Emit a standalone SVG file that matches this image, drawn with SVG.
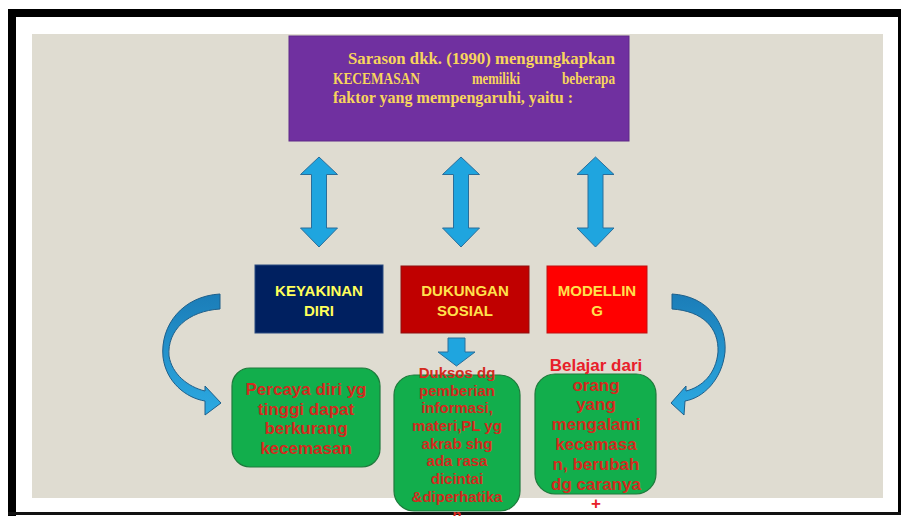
<svg xmlns="http://www.w3.org/2000/svg" width="901" height="516" viewBox="0 0 901 516">
<defs>
<style>
.title{font-family:"Liberation Serif","Times New Roman",serif;font-weight:bold;font-size:16.5px;fill:#F7D55C}
.lbl{font-family:"Liberation Sans",Arial,sans-serif;font-weight:bold;font-size:15px;text-anchor:middle}
.gt{font-family:"Liberation Sans",Arial,sans-serif;font-weight:bold;text-anchor:middle;fill:#D42A1E}
.arr{fill:#1FA5DF;stroke:#2A6E9A;stroke-width:1}
.carr{fill:url(#cg);stroke:#1E5F8A;stroke-width:1}
.gbox{fill:#12AE4C;stroke:#1F7A3C;stroke-width:1.2}
</style>
<linearGradient id="cg" x1="0" y1="0" x2="0" y2="1">
<stop offset="0" stop-color="#1B7DB8"/>
<stop offset="1" stop-color="#2CAAE2"/>
</linearGradient>
<path id="dbl" d="M0,157 L18.5,174.5 L7.5,174.5 L7.5,228 L18.5,228 L0,247 L-18.5,228 L-7.5,228 L-7.5,174.5 L-18.5,174.5 Z"/>
</defs>
<rect x="0" y="0" width="901" height="516" fill="#ffffff"/>
<g id="frame">
<rect x="8" y="9" width="893" height="8" fill="#000"/>
<rect x="8" y="9" width="8" height="507" fill="#000"/>
<rect x="898" y="9" width="3" height="505" fill="#000"/>
<rect x="8" y="512" width="893" height="3" fill="#111"/>
<rect x="32" y="34" width="851" height="464" fill="#DFDCD1"/>
</g>
<g id="connectors">
<use href="#dbl" x="319" class="arr"/>
<use href="#dbl" x="461" class="arr"/>
<use href="#dbl" x="595.5" class="arr"/>
<path class="arr" d="M448,338 L465,338 L465,352 L475,352 L456.5,366 L438,352 L448,352 Z"/>
<path class="carr" d="M220,294 C183,296 160,325 163,357 C166,382 186,398 205,401 L205,415 L221,403 L205,386 L205,391 C188,387 172,374 169,356 C167,330 188,311 220,309 Z"/>
<path class="carr" d="M672,294 C709,296 727,325 725,352 C722,380 703,398 685,401 L684,415 L671,403 L686,386 L686,391 C702,387 716,374 718,352 C719,328 703,311 672,309 Z"/>
</g>
<g id="title">
<rect x="289" y="36" width="340" height="105" fill="#7030A0" stroke="#5E2888" stroke-width="1"/>
<text class="title" x="348" y="64" textLength="267" lengthAdjust="spacingAndGlyphs">Sarason dkk. (1990) mengungkapkan</text>
<text class="title" y="84"><tspan x="333" textLength="87" lengthAdjust="spacingAndGlyphs">KECEMASAN</tspan><tspan x="472" textLength="48" lengthAdjust="spacingAndGlyphs">memiliki</tspan><tspan x="562" textLength="53" lengthAdjust="spacingAndGlyphs">beberapa</tspan></text>
<text class="title" x="333" y="103" textLength="240" lengthAdjust="spacingAndGlyphs">faktor yang mempengaruhi, yaitu :</text>
</g>
<g id="keyakinan">
<rect x="255" y="265" width="128" height="68" fill="#002060" stroke="#2A4A80" stroke-width="1"/>
<text class="lbl" fill="#FFFF5A" x="319" y="296">KEYAKINAN</text>
<text class="lbl" fill="#FFFF5A" x="319" y="316">DIRI</text>
</g>
<g id="dukungan">
<rect x="401" y="266" width="128" height="67" fill="#C00000" stroke="#8E1010" stroke-width="1"/>
<text class="lbl" fill="#FFE14D" x="465" y="296">DUKUNGAN</text>
<text class="lbl" fill="#FFE14D" x="465" y="316">SOSIAL</text>
</g>
<g id="modelling">
<rect x="547" y="266" width="100" height="67" fill="#FF0000" stroke="#C01010" stroke-width="1"/>
<text class="lbl" fill="#FFE14D" x="597" y="296">MODELLIN</text>
<text class="lbl" fill="#FFE14D" x="597" y="316">G</text>
</g>
<g id="percaya">
<rect class="gbox" x="232" y="368" width="148" height="99" rx="18"/>
<text class="gt" font-size="17" x="306"><tspan x="306" y="395">Percaya diri yg</tspan><tspan x="306" y="415">tinggi dapat</tspan><tspan x="306" y="434">berkurang</tspan><tspan x="306" y="454">kecemasan</tspan></text>
</g>
<g id="duksos">
<rect class="gbox" x="394" y="375" width="126" height="136" rx="20"/>
<text class="gt" font-size="15" x="457"><tspan x="457" y="378">Duksos dg</tspan><tspan x="457" y="396">pemberian</tspan><tspan x="457" y="413">informasi,</tspan><tspan x="457" y="431">materi,PL yg</tspan><tspan x="457" y="449">akrab shg</tspan><tspan x="457" y="466">ada rasa</tspan><tspan x="457" y="484">dicintai</tspan><tspan x="457" y="502">&amp;diperhatika</tspan><tspan x="457" y="520">n</tspan></text>
</g>
<g id="belajar">
<rect class="gbox" x="535" y="374" width="121" height="120" rx="20"/>
<text class="gt" font-size="17" x="596"><tspan x="596" y="371" fill="#E8202A">Belajar dari</tspan><tspan x="596" y="391">orang</tspan><tspan x="596" y="410">yang</tspan><tspan x="596" y="430">mengalami</tspan><tspan x="596" y="450">kecemasa</tspan><tspan x="596" y="470">n, berubah</tspan><tspan x="596" y="490">dg caranya</tspan><tspan x="596" y="509" fill="#E8202A">+</tspan></text>
</g>
</svg>
